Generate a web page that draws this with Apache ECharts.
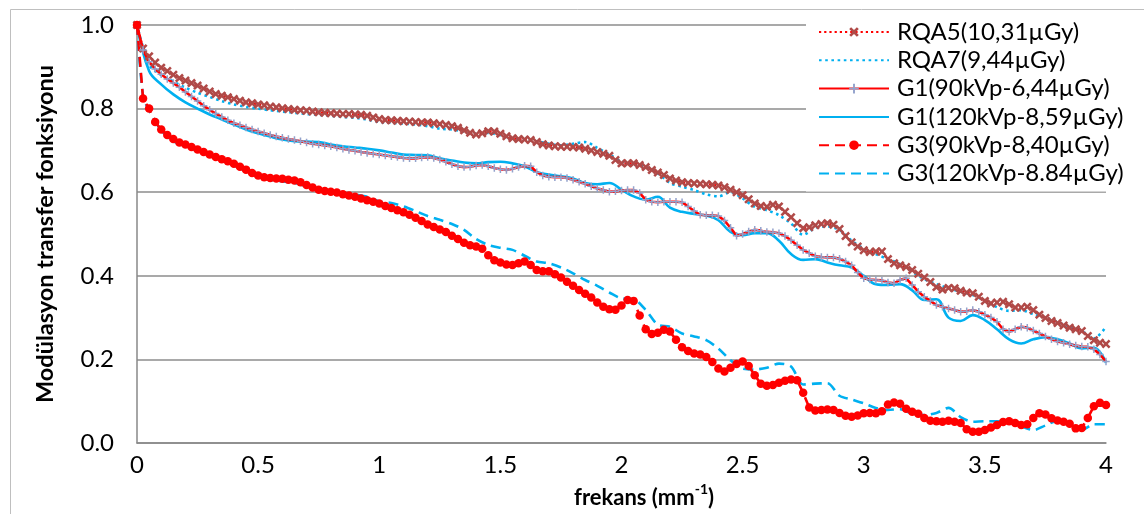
<!DOCTYPE html>
<html>
<head>
<meta charset="utf-8">
<script src="https://cdn.jsdelivr.net/npm/echarts@6/dist/echarts.min.js"></script>
<style>
html,body{margin:0;padding:0;background:#fff;}
#chart{width:1144px;height:514px;}
</style>
</head>
<body>
<div id="chart"></div>
<script>
// Sampling grids (mm^-1)
var freqFine = Array.from({length: 161}, function (_, i) { return +(i * 0.025).toFixed(3); });
var freqCoarse = Array.from({length: 81}, function (_, i) { return +(i * 0.05).toFixed(2); });
var freqG3b = [0, 0.025].concat(freqCoarse.slice(1));

var seriesNames = ['RQA5(10,31\u00b5Gy)', 'RQA7(9,44\u00b5Gy)', 'G1(90kVp-6,44\u00b5Gy)',
  'G1(120kVp-8,59\u00b5Gy)', 'G3(90kVp-8,40\u00b5Gy)', 'G3(120kVp-8.84\u00b5Gy)'];

var yTicks = [0, 0.2, 0.4, 0.6, 0.8, 1.0];
var xTicks = [0, 0.5, 1, 1.5, 2, 2.5, 3, 3.5, 4];

var rqa5 = [
1.000,0.944,0.925,0.910,0.898,0.890,0.881,0.873,0.867,0.861,
0.855,0.848,0.841,0.835,0.831,0.827,0.823,0.819,0.815,0.813,
0.810,0.808,0.805,0.803,0.801,0.799,0.797,0.796,0.795,0.793,
0.791,0.790,0.789,0.788,0.787,0.787,0.786,0.785,0.783,0.779,
0.775,0.773,0.772,0.771,0.770,0.769,0.768,0.767,0.767,0.765,
0.763,0.761,0.758,0.754,0.748,0.742,0.738,0.741,0.746,0.745,
0.740,0.734,0.729,0.727,0.726,0.725,0.720,0.715,0.712,0.710,
0.709,0.709,0.708,0.707,0.704,0.700,0.696,0.692,0.687,0.677,
0.669,0.669,0.669,0.665,0.660,0.653,0.647,0.641,0.633,0.628,
0.624,0.622,0.621,0.620,0.619,0.618,0.616,0.612,0.606,0.600,
0.593,0.583,0.573,0.567,0.565,0.570,0.566,0.553,0.540,0.526,
0.514,0.516,0.521,0.524,0.526,0.522,0.512,0.495,0.480,0.470,
0.461,0.457,0.458,0.458,0.440,0.430,0.425,0.421,0.414,0.405,
0.396,0.385,0.373,0.367,0.371,0.370,0.364,0.360,0.358,0.350,
0.340,0.334,0.336,0.338,0.332,0.324,0.324,0.326,0.318,0.307,
0.299,0.292,0.287,0.281,0.276,0.272,0.268,0.256,0.246,0.240,
0.237];

var rqa7 = [
1.000,0.905,0.880,0.865,0.850,0.838,0.828,0.818,0.810,0.804,
0.800,0.796,0.793,0.790,0.787,0.785,0.783,0.780,0.778,0.774,
0.768,0.766,0.764,0.762,0.758,0.752,0.750,0.745,0.740,0.742,
0.736,0.728,0.726,0.722,0.716,0.712,0.716,0.720,0.706,0.690,
0.674,0.666,0.660,0.645,0.622,0.613,0.605,0.595,0.590,0.600,
0.585,0.565,0.557,0.545,0.525,0.498,0.515,0.518,0.510,0.484,
0.465,0.452,0.440,0.428,0.410,0.392,0.380,0.370,0.362,0.354,
0.340,0.325,0.316,0.318,0.308,0.300,0.290,0.278,0.268,0.250,
0.278];

var g1kv90 = [
1.000,0.940,0.912,0.895,0.882,0.871,0.861,0.851,0.840,0.829,
0.818,0.807,0.797,0.788,0.780,0.772,0.765,0.760,0.755,0.750,
0.745,0.741,0.737,0.733,0.730,0.727,0.725,0.722,0.719,0.716,
0.714,0.712,0.710,0.707,0.704,0.701,0.699,0.696,0.694,0.692,
0.690,0.688,0.686,0.684,0.682,0.681,0.681,0.683,0.684,0.682,
0.678,0.673,0.667,0.662,0.660,0.661,0.664,0.665,0.662,0.658,
0.655,0.653,0.656,0.660,0.663,0.662,0.648,0.640,0.637,0.636,
0.636,0.634,0.630,0.625,0.620,0.614,0.609,0.605,0.601,0.602,
0.604,0.605,0.605,0.598,0.582,0.577,0.576,0.577,0.577,0.577,
0.576,0.566,0.555,0.546,0.545,0.545,0.543,0.532,0.515,0.496,
0.500,0.506,0.510,0.508,0.505,0.504,0.502,0.495,0.485,0.473,
0.462,0.454,0.447,0.445,0.444,0.444,0.441,0.434,0.425,0.408,
0.394,0.391,0.390,0.389,0.384,0.382,0.390,0.394,0.378,0.362,
0.350,0.340,0.330,0.326,0.322,0.318,0.314,0.315,0.318,0.314,
0.307,0.300,0.290,0.272,0.266,0.272,0.278,0.276,0.269,0.262,
0.255,0.248,0.243,0.240,0.236,0.233,0.231,0.230,0.224,0.212,
0.195];

var g1kv120 = [
1.000,0.890,0.858,0.834,0.815,0.800,0.786,0.774,0.762,0.750,
0.741,0.733,0.726,0.722,0.721,0.720,0.714,0.710,0.707,0.704,
0.700,0.695,0.690,0.689,0.688,0.681,0.676,0.671,0.669,0.672,
0.673,0.669,0.662,0.648,0.642,0.638,0.633,0.622,0.619,0.622,
0.606,0.590,0.582,0.589,0.563,0.553,0.548,0.544,0.533,0.505,
0.497,0.502,0.502,0.484,0.452,0.438,0.440,0.432,0.425,0.420,
0.400,0.380,0.378,0.380,0.365,0.342,0.344,0.300,0.292,0.306,
0.294,0.272,0.248,0.238,0.248,0.253,0.248,0.238,0.226,0.228,
0.192];

var g3kv90 = [
1.000,0.824,0.800,0.768,0.750,0.737,0.727,0.719,0.714,0.708,
0.702,0.696,0.690,0.684,0.679,0.674,0.668,0.661,0.654,0.646,
0.640,0.636,0.634,0.633,0.632,0.630,0.628,0.624,0.617,0.611,
0.606,0.603,0.601,0.599,0.595,0.592,0.589,0.585,0.581,0.577,
0.573,0.567,0.562,0.557,0.552,0.546,0.539,0.531,0.523,0.517,
0.511,0.505,0.496,0.488,0.479,0.473,0.470,0.465,0.449,0.437,
0.432,0.427,0.426,0.430,0.434,0.426,0.414,0.411,0.411,0.404,
0.396,0.386,0.376,0.366,0.357,0.348,0.336,0.326,0.320,0.319,
0.329,0.342,0.340,0.305,0.272,0.261,0.264,0.271,0.267,0.247,
0.229,0.220,0.214,0.212,0.206,0.194,0.178,0.171,0.180,0.189,
0.195,0.184,0.162,0.142,0.137,0.139,0.144,0.149,0.152,0.150,
0.120,0.085,0.078,0.079,0.080,0.079,0.072,0.065,0.063,0.066,
0.071,0.072,0.071,0.076,0.092,0.097,0.094,0.082,0.075,0.070,
0.060,0.053,0.052,0.051,0.053,0.051,0.048,0.033,0.027,0.027,
0.031,0.037,0.043,0.050,0.052,0.048,0.043,0.045,0.060,0.071,
0.068,0.059,0.054,0.051,0.046,0.035,0.036,0.060,0.088,0.096,
0.091];

var g3kv120 = [
1.000,0.830,0.795,0.748,0.722,0.710,0.698,0.688,0.678,0.664,0.650,
0.637,0.629,0.626,0.622,0.614,0.606,0.603,0.598,0.594,0.589,
0.578,0.574,0.566,0.555,0.543,0.534,0.524,0.510,0.488,0.474,
0.467,0.462,0.448,0.434,0.430,0.420,0.406,0.390,0.376,0.360,
0.346,0.344,0.318,0.283,0.278,0.262,0.255,0.246,0.226,0.198,
0.178,0.176,0.180,0.190,0.183,0.140,0.142,0.143,0.113,0.104,
0.095,0.084,0.079,0.081,0.070,0.067,0.072,0.084,0.062,0.051,
0.052,0.052,0.051,0.040,0.031,0.042,0.053,0.045,0.031,0.045,
0.045];

function zip(xs, ys) {
  var n = Math.min(xs.length, ys.length), out = [];
  for (var i = 0; i < n; i++) out.push([xs[i], ys[i]]);
  return out;
}

var RED = '#ff0000', BLUE = '#00b0f0', BROWN = '#b04a48', LAV = '#93a2cc';
var FONT = 'Lato, "Open Sans", sans-serif';
var X_SYM = 'path://M2,0L5,3L8,0L10,2L7,5L10,8L8,10L5,7L2,10L0,8L3,5L0,2Z';
var PLUS_SYM = 'path://M4,0H6V4H10V6H6V10H4V6H0V4H4Z';
var NOSYM = {color: 'rgba(0,0,0,0)', borderWidth: 0};

var chart = echarts.init(document.getElementById('chart'), null, {renderer: 'canvas'});
chart.setOption({
  animation: false,
  backgroundColor: '#fff',
  textStyle: {fontFamily: FONT},
  grid: {left: 137, right: 38, top: 25, bottom: 71},
  graphic: [
    {type: 'rect', left: 8, top: 7, silent: true, z: -10,
     shape: {x: 0, y: 0, width: 1160, height: 530},
     style: {fill: 'none', stroke: '#bfbfbf', lineWidth: 1}},
    {type: 'text', left: 574, top: 482, z: 10,
     style: {text: '{a|frekans (mm}{s|-1}{a|)}', rich: {
       a: {fontFamily: FONT, fontSize: 22, fontWeight: 'bold', fill: '#000', lineHeight: 27, verticalAlign: 'bottom'},
       s: {fontFamily: FONT, fontSize: 14, fontWeight: 'bold', fill: '#000', lineHeight: 27, verticalAlign: 'top'}
     }}}
  ],
  legend: {
    orient: 'vertical', left: 806, top: 15,
    padding: [5, 10, 6, 12],
    backgroundColor: '#fff',
    itemWidth: 70, itemHeight: 12, itemGap: 4.3,
    textStyle: {fontFamily: FONT, fontSize: 24, color: '#000', lineHeight: 24, padding: [0, 0, 0, 3]},
    data: [
      {name: seriesNames[0]},
      {name: seriesNames[1], itemStyle: NOSYM},
      {name: seriesNames[2]},
      {name: seriesNames[3], itemStyle: NOSYM},
      {name: seriesNames[4]},
      {name: seriesNames[5], itemStyle: NOSYM}
    ]
  },
  xAxis: {
    type: 'value', min: 0, max: 4, interval: 0.5,
    axisLine: {show: true, onZero: false, lineStyle: {color: '#888', width: 1.5}},
    axisTick: {show: false},
    splitLine: {show: false},
    axisLabel: {fontFamily: FONT, fontSize: 24, color: '#000', margin: 10,
      formatter: function (v) { return xTicks.indexOf(v) >= 0 ? String(v) : ''; }}
  },
  yAxis: {
    type: 'value', min: 0, max: 1, interval: 0.2,
    name: 'Modülasyon transfer fonksiyonu', nameLocation: 'middle', nameGap: 80, nameRotate: 90,
    nameTextStyle: {fontFamily: FONT, fontSize: 23.5, fontWeight: 'bold', color: '#000'},
    axisLine: {show: true, lineStyle: {color: '#888', width: 1.5}},
    axisTick: {show: false},
    splitLine: {show: true, lineStyle: {color: '#8c8c8c', width: 1.5}},
    axisLabel: {fontFamily: FONT, fontSize: 24, color: '#000', margin: 23,
      formatter: function (v) { return v.toFixed(1); }}
  },
  series: [
    {name: seriesNames[0], type: 'line', z: 3, data: zip(freqFine, rqa5),
     symbol: X_SYM, symbolSize: 9, showSymbol: true,
     itemStyle: {color: BROWN},
     lineStyle: {color: RED, width: 2.2, type: [2.2, 3]}},
    {name: seriesNames[1], type: 'line', z: 2, data: zip(freqCoarse, rqa7),
     symbol: 'none', itemStyle: {color: BLUE}, smooth: 0.3,
     lineStyle: {color: BLUE, width: 2.6, type: [2.6, 3.6]}},
    {name: seriesNames[2], type: 'line', z: 3, data: zip(freqFine, g1kv90),
     symbol: PLUS_SYM, symbolSize: 7.5, showSymbol: true,
     itemStyle: {color: LAV},
     lineStyle: {color: RED, width: 2.6}},
    {name: seriesNames[3], type: 'line', z: 2, data: zip(freqCoarse, g1kv120),
     symbol: 'none', smooth: 0.4, itemStyle: {color: BLUE},
     lineStyle: {color: BLUE, width: 2.6}},
    {name: seriesNames[4], type: 'line', z: 3, data: zip(freqFine, g3kv90),
     symbol: 'circle', symbolSize: 8.5, showSymbol: true,
     itemStyle: {color: RED},
     lineStyle: {color: RED, width: 2.6, type: [10, 6]}},
    {name: seriesNames[5], type: 'line', z: 2, data: zip(freqG3b, g3kv120),
     symbol: 'none', smooth: 0.3, itemStyle: {color: BLUE},
     lineStyle: {color: BLUE, width: 2.6, type: [10, 6]}}
  ]
});
</script>
</body>
</html>
